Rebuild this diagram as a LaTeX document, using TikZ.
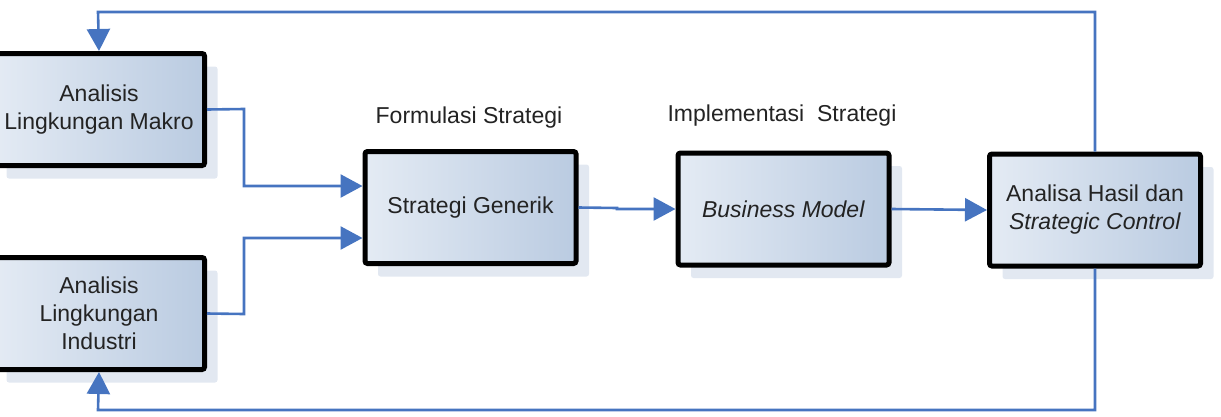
\documentclass[tikz,border=0pt]{standalone}
\usepackage{fontspec}
\setmainfont{Liberation Sans}
\usetikzlibrary{arrows.meta,shadows}
\definecolor{boxL}{RGB}{228,235,244}
\definecolor{boxR}{RGB}{186,203,225}
\definecolor{shadowc}{RGB}{226,232,241}
\definecolor{linkc}{RGB}{70,116,192}
\definecolor{txt}{RGB}{35,35,35}
\tikzset{
  stepbox/.style={draw=black, line width=5pt, rounded corners=2.5pt,
    left color=boxL, right color=boxR,
    drop shadow={shadow xshift=13pt, shadow yshift=-13pt, fill=shadowc, opacity=1},
    minimum width=211pt, minimum height=112pt, inner sep=0pt, align=center,
    text=txt, font=\fontsize{23}{28}\selectfont},
  lbl/.style={text=txt, font=\fontsize{23}{28}\selectfont, inner sep=0pt},
  link/.style={draw=linkc, line width=2.6pt},
  arr/.style={link, -{Triangle[length=22pt,width=23pt]}}
}
\begin{document}
\begin{tikzpicture}[x=1pt,y=-1pt]
\useasboundingbox (0,0) rectangle (1221,416);
\clip (0,0) rectangle (1221,416);
\node[stepbox] (makro) at (99,109.5) {Analisis\\Lingkungan Makro};
\node[stepbox] (ind) at (99,313.5) {Analisis\\Lingkungan\\Industri};
\node[stepbox] (sg) at (470.5,207.5) {Strategi Generik};
\node[stepbox] (bm) at (783.5,209) {\textit{Business Model}};
\node[stepbox] (ah) at (1095,210) {Analisa Hasil dan\\\textit{Strategic Control}};
\node[lbl] (lf) at (469,118) {Formulasi Strategi};
\node[lbl] (li) at (782,116) {Implementasi\ \ Strategi};
\coordinate (tr) at (1095,12);
\coordinate (tl) at (98,12);
\coordinate (br) at (1095,410);
\coordinate (bl) at (98,410);
\draw[arr] (makro.east) -- (244,109) |- (sg.west |- 0,186);
\draw[arr] (ind.east) -- (244,314) |- (sg.west |- 0,238);
\draw[arr] (sg.east) -- (617,208) -- (617,209) -- (bm.west);
\draw[arr] (bm.east) -- (ah.west);
\draw[arr] (ah.north) -- (tr) -- (tl) -- (makro.north);
\draw[arr] (ah.south) -- (br) -- (bl) -- (ind.south);
\end{tikzpicture}
\end{document}
